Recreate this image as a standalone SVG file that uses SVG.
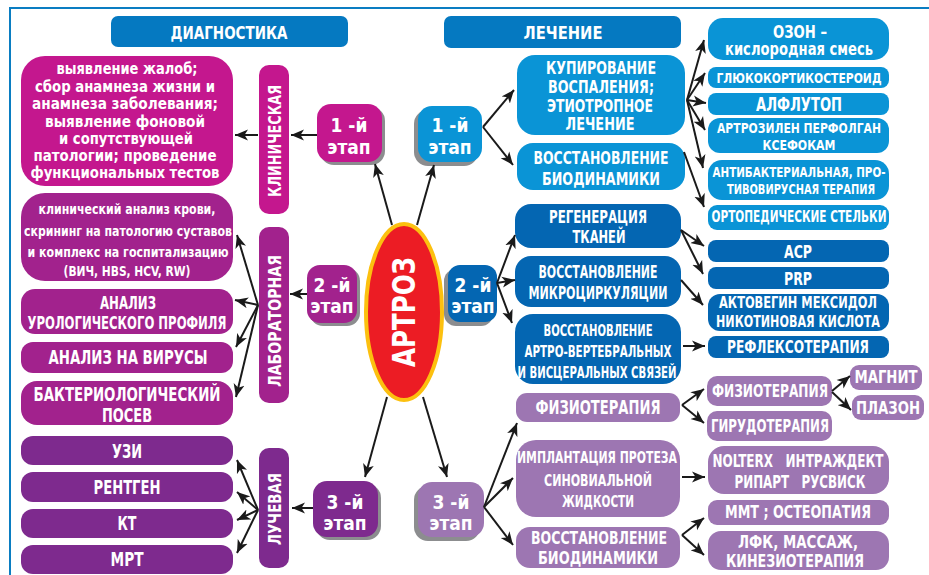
<svg xmlns="http://www.w3.org/2000/svg" width="929" height="575" viewBox="0 0 929 575">
<defs>
<marker id="ah" markerUnits="userSpaceOnUse" markerWidth="14" markerHeight="12" refX="13" refY="6" orient="auto">
<path d="M0,0.5 L13,6 L0,11.5 L3.5,6 z" fill="#1a1a1a"/>
</marker>
<style>
.t{font-family:"Liberation Sans Narrow","DejaVu Sans Condensed","Liberation Sans",sans-serif;font-weight:bold;fill:#fff;text-anchor:middle;dominant-baseline:central}
.c line{stroke:#1a1a1a;stroke-width:2;fill:none;marker-end:url(#ah)}
.sh{fill:#8c8d8f}
.hb{fill:#0579c1}
.lb{fill:#0a94d6}
.db{fill:#0466b2}
.mg{fill:#c4178e}
.lp{fill:#a2228d}
.rp{fill:#7e2a8e}
.vp{fill:#9d76b2}
</style>
</defs>
<rect x="0" y="0" width="929" height="575" fill="#fff"/>
<polyline points="10,575 10,8 929,8" fill="none" stroke="#0a7dc2" stroke-width="2"/>

<g id="hdr-diag"><rect class="hb" x="111" y="16" width="237" height="31" rx="7"/><text class="t" x="229" y="32" font-size="18" textLength="117" lengthAdjust="spacingAndGlyphs">ДИАГНОСТИКА</text></g>
<g id="hdr-treat"><rect class="hb" x="444" y="16" width="237" height="32" rx="7"/><text class="t" x="563" y="32" font-size="18" textLength="79" lengthAdjust="spacingAndGlyphs">ЛЕЧЕНИЕ</text></g>

<g id="artroz"><ellipse cx="404" cy="312" rx="38" ry="88" fill="#ec1c24" stroke="#fcc00f" stroke-width="4"/><text class="t" transform="translate(404,312) rotate(-90)" x="0" y="0" font-size="32" textLength="110" lengthAdjust="spacingAndGlyphs">АРТРОЗ</text></g>

<g id="st1l"><rect class="sh" x="320" y="107" width="65" height="58" rx="14"/><rect class="mg" x="317" y="104" width="65" height="58" rx="14"/><text class="t" x="349" y="125" font-size="19">1 -й</text><text class="t" x="349" y="147" font-size="19">этап</text></g>
<g id="st2l"><rect class="sh" x="310" y="268" width="50" height="58" rx="13"/><rect class="lp" x="307" y="265" width="50" height="58" rx="13"/><text class="t" x="332" y="285" font-size="19">2 -й</text><text class="t" x="332" y="306" font-size="19">этап</text></g>
<g id="st3l"><rect class="sh" x="316" y="484" width="65" height="56" rx="14"/><rect class="rp" x="313" y="481" width="65" height="56" rx="14"/><text class="t" x="345" y="502" font-size="19">3 -й</text><text class="t" x="345" y="523" font-size="19">этап</text></g>
<g id="st1r"><rect class="sh" x="414" y="110" width="64" height="56" rx="14"/><rect class="lb" x="418" y="106" width="64" height="56" rx="14"/><text class="t" x="450" y="125" font-size="19">1 -й</text><text class="t" x="450" y="147" font-size="19">этап</text></g>
<g id="st2r"><rect class="sh" x="444" y="269" width="49" height="57" rx="12"/><rect class="db" x="448" y="265" width="49" height="57" rx="12"/><text class="t" x="473" y="285" font-size="19">2 -й</text><text class="t" x="473" y="306" font-size="19">этап</text></g>
<g id="st3r"><rect class="sh" x="414" y="486" width="66" height="55" rx="14"/><rect class="vp" x="418" y="482" width="66" height="55" rx="14"/><text class="t" x="451" y="502" font-size="19">3 -й</text><text class="t" x="451" y="523" font-size="19">этап</text></g>

<g id="v-clin"><rect class="mg" x="259" y="65" width="30" height="149" rx="10"/><text class="t" transform="translate(274,141) rotate(-90)" font-size="18" textLength="112" lengthAdjust="spacingAndGlyphs">КЛИНИЧЕСКАЯ</text></g>
<g id="v-lab"><rect class="lp" x="259" y="227" width="30" height="176" rx="10"/><text class="t" transform="translate(274,321) rotate(-90)" font-size="18" textLength="132" lengthAdjust="spacingAndGlyphs">ЛАБОРАТОРНАЯ</text></g>
<g id="v-ray"><rect class="rp" x="259" y="448" width="30" height="120" rx="10"/><text class="t" transform="translate(274,509) rotate(-90)" font-size="18" textLength="72" lengthAdjust="spacingAndGlyphs">ЛУЧЕВАЯ</text></g>

<g id="clin-box"><rect class="mg" x="21" y="56" width="212" height="130" rx="24"/>
<text class="t" x="127" y="68" font-size="16.5" textLength="141" lengthAdjust="spacingAndGlyphs">выявление жалоб;</text>
<text class="t" x="125" y="86" font-size="16.5" textLength="180" lengthAdjust="spacingAndGlyphs">сбор анамнеза жизни и</text>
<text class="t" x="125" y="103" font-size="16.5" textLength="186" lengthAdjust="spacingAndGlyphs">анамнеза заболевания;</text>
<text class="t" x="125" y="121" font-size="16.5" textLength="160" lengthAdjust="spacingAndGlyphs">выявление фоновой</text>
<text class="t" x="126" y="138" font-size="16.5" textLength="134" lengthAdjust="spacingAndGlyphs">и сопутствующей</text>
<text class="t" x="125" y="155" font-size="16.5" textLength="183" lengthAdjust="spacingAndGlyphs">патологии; проведение</text>
<text class="t" x="125" y="172" font-size="16.5" textLength="189" lengthAdjust="spacingAndGlyphs">функциональных тестов</text></g>

<g id="lab1"><rect class="lp" x="21" y="193" width="212" height="88" rx="24"/>
<text class="t" x="127" y="209" font-size="14" textLength="177" lengthAdjust="spacingAndGlyphs">клинический анализ крови,</text>
<text class="t" x="128" y="231" font-size="14" textLength="208" lengthAdjust="spacingAndGlyphs">скрининг на патологию суставов</text>
<text class="t" x="128" y="252" font-size="14" textLength="201" lengthAdjust="spacingAndGlyphs">и комплекс на госпитализацию</text>
<text class="t" x="127" y="271" font-size="14" textLength="127" lengthAdjust="spacingAndGlyphs">(ВИЧ, HBS, HCV, RW)</text></g>
<g id="lab2"><rect class="lp" x="21" y="289" width="212" height="45" rx="14"/>
<text class="t" x="128" y="303" font-size="17" textLength="56" lengthAdjust="spacingAndGlyphs">АНАЛИЗ</text>
<text class="t" x="127" y="323" font-size="17" textLength="199" lengthAdjust="spacingAndGlyphs">УРОЛОГИЧЕСКОГО ПРОФИЛЯ</text></g>
<g id="lab3"><rect class="lp" x="21" y="342" width="212" height="31" rx="12"/>
<text class="t" x="128" y="357" font-size="20" textLength="159" lengthAdjust="spacingAndGlyphs">АНАЛИЗ НА ВИРУСЫ</text></g>
<g id="lab4"><rect class="lp" x="21" y="381" width="212" height="44" rx="16"/>
<text class="t" x="127" y="394" font-size="19" textLength="187" lengthAdjust="spacingAndGlyphs">БАКТЕРИОЛОГИЧЕСКИЙ</text>
<text class="t" x="127" y="415" font-size="19" textLength="50" lengthAdjust="spacingAndGlyphs">ПОСЕВ</text></g>

<g id="ray1"><rect class="rp" x="21" y="436" width="212" height="29" rx="12"/><text class="t" x="127" y="451" font-size="20" textLength="30" lengthAdjust="spacingAndGlyphs">УЗИ</text></g>
<g id="ray2"><rect class="rp" x="21" y="472" width="212" height="30" rx="12"/><text class="t" x="127" y="487" font-size="20" textLength="67" lengthAdjust="spacingAndGlyphs">РЕНТГЕН</text></g>
<g id="ray3"><rect class="rp" x="21" y="509" width="212" height="29" rx="12"/><text class="t" x="127" y="523" font-size="20" textLength="19" lengthAdjust="spacingAndGlyphs">КТ</text></g>
<g id="ray4"><rect class="rp" x="21" y="545" width="212" height="29" rx="12"/><text class="t" x="127" y="559" font-size="20" textLength="33" lengthAdjust="spacingAndGlyphs">МРТ</text></g>

<g id="kup"><rect class="lb" x="517" y="55" width="168" height="80" rx="18"/>
<text class="t" x="601" y="68" font-size="17.5" textLength="110" lengthAdjust="spacingAndGlyphs">КУПИРОВАНИЕ</text>
<text class="t" x="601" y="87" font-size="17.5" textLength="106" lengthAdjust="spacingAndGlyphs">ВОСПАЛЕНИЯ;</text>
<text class="t" x="600" y="106" font-size="17.5" textLength="106" lengthAdjust="spacingAndGlyphs">ЭТИОТРОПНОЕ</text>
<text class="t" x="600" y="124" font-size="17.5" textLength="69" lengthAdjust="spacingAndGlyphs">ЛЕЧЕНИЕ</text></g>
<g id="bio1"><rect class="lb" x="517" y="143" width="168" height="47" rx="16"/>
<text class="t" x="601" y="157" font-size="18" textLength="135" lengthAdjust="spacingAndGlyphs">ВОССТАНОВЛЕНИЕ</text>
<text class="t" x="601" y="178" font-size="18" textLength="118" lengthAdjust="spacingAndGlyphs">БИОДИНАМИКИ</text></g>
<g id="regen"><rect class="db" x="515" y="204" width="166" height="44" rx="16"/>
<text class="t" x="598" y="217" font-size="17" textLength="98" lengthAdjust="spacingAndGlyphs">РЕГЕНЕРАЦИЯ</text>
<text class="t" x="599" y="237" font-size="17" textLength="53" lengthAdjust="spacingAndGlyphs">ТКАНЕЙ</text></g>
<g id="micro"><rect class="db" x="515" y="256" width="166" height="51" rx="16"/>
<text class="t" x="598" y="272" font-size="17" textLength="119" lengthAdjust="spacingAndGlyphs">ВОССТАНОВЛЕНИЕ</text>
<text class="t" x="598" y="293" font-size="17" textLength="139" lengthAdjust="spacingAndGlyphs">МИКРОЦИРКУЛЯЦИИ</text></g>
<g id="artro"><rect class="db" x="515" y="314" width="166" height="70" rx="18"/>
<text class="t" x="598" y="330" font-size="16" textLength="109" lengthAdjust="spacingAndGlyphs">ВОССТАНОВЛЕНИЕ</text>
<text class="t" x="598" y="351" font-size="16" textLength="147" lengthAdjust="spacingAndGlyphs">АРТРО-ВЕРТЕБРАЛЬНЫХ</text>
<text class="t" x="597" y="372" font-size="16" textLength="159" lengthAdjust="spacingAndGlyphs">И ВИСЦЕРАЛЬНЫХ СВЯЗЕЙ</text></g>
<g id="fizio"><rect class="vp" x="516" y="393" width="164" height="29" rx="11"/>
<text class="t" x="598" y="407" font-size="19" textLength="125" lengthAdjust="spacingAndGlyphs">ФИЗИОТЕРАПИЯ</text></g>
<g id="impl"><rect class="vp" x="516" y="440" width="164" height="77" rx="20"/>
<text class="t" x="597" y="457" font-size="16" textLength="160" lengthAdjust="spacingAndGlyphs">ИМПЛАНТАЦИЯ ПРОТЕЗА</text>
<text class="t" x="598" y="480" font-size="16" textLength="108" lengthAdjust="spacingAndGlyphs">СИНОВИАЛЬНОЙ</text>
<text class="t" x="598" y="501" font-size="16" textLength="72" lengthAdjust="spacingAndGlyphs">ЖИДКОСТИ</text></g>
<g id="bio2"><rect class="vp" x="516" y="527" width="164" height="41" rx="14"/>
<text class="t" x="599" y="537" font-size="18" textLength="136" lengthAdjust="spacingAndGlyphs">ВОССТАНОВЛЕНИЕ</text>
<text class="t" x="598" y="557" font-size="18" textLength="120" lengthAdjust="spacingAndGlyphs">БИОДИНАМИКИ</text></g>

<g id="ozon"><rect class="lb" x="708" y="18" width="181" height="42" rx="15"/>
<text class="t" x="800" y="32" font-size="17" textLength="54" lengthAdjust="spacingAndGlyphs">ОЗОН –</text>
<text class="t" x="799" y="49" font-size="17" textLength="148" lengthAdjust="spacingAndGlyphs">кислородная смесь</text></g>
<g id="gluk"><rect class="lb" x="708" y="67" width="181" height="21" rx="8"/>
<text class="t" x="799" y="78" font-size="14.5" textLength="165" lengthAdjust="spacingAndGlyphs">ГЛЮКОКОРТИКОСТЕРОИД</text></g>
<g id="alf"><rect class="lb" x="708" y="93" width="181" height="22" rx="8"/>
<text class="t" x="799" y="104" font-size="19" textLength="86" lengthAdjust="spacingAndGlyphs">АЛФЛУТОП</text></g>
<g id="artroz-p"><rect class="lb" x="708" y="118" width="181" height="35" rx="12"/>
<text class="t" x="799" y="128" font-size="14.5" textLength="164" lengthAdjust="spacingAndGlyphs">АРТРОЗИЛЕН ПЕРФОЛГАН</text>
<text class="t" x="799" y="145" font-size="14.5" textLength="73" lengthAdjust="spacingAndGlyphs">КСЕФОКАМ</text></g>
<g id="anti"><rect class="lb" x="708" y="160" width="181" height="40" rx="14"/>
<text class="t" x="799" y="172" font-size="14.5" textLength="173" lengthAdjust="spacingAndGlyphs">АНТИБАКТЕРИАЛЬНАЯ, ПРО-</text>
<text class="t" x="801" y="189" font-size="14.5" textLength="148" lengthAdjust="spacingAndGlyphs">ТИВОВИРУСНАЯ  ТЕРАПИЯ</text></g>
<g id="ortho"><rect class="lb" x="708" y="205" width="181" height="25" rx="9"/>
<text class="t" x="799" y="217" font-size="15" textLength="175" lengthAdjust="spacingAndGlyphs">ОРТОПЕДИЧЕСКИЕ СТЕЛЬКИ</text></g>

<g id="acp"><rect class="db" x="708" y="240" width="181" height="22" rx="8"/>
<text class="t" x="798" y="251" font-size="18" textLength="28" lengthAdjust="spacingAndGlyphs">АСР</text></g>
<g id="prp"><rect class="db" x="708" y="267" width="181" height="22" rx="8"/>
<text class="t" x="798" y="278" font-size="18" textLength="28" lengthAdjust="spacingAndGlyphs">PRP</text></g>
<g id="akto"><rect class="db" x="708" y="294" width="181" height="37" rx="12"/>
<text class="t" x="798" y="303" font-size="15.5" textLength="158" lengthAdjust="spacingAndGlyphs">АКТОВЕГИН МЕКСИДОЛ</text>
<text class="t" x="798" y="322" font-size="15.5" textLength="164" lengthAdjust="spacingAndGlyphs">НИКОТИНОВАЯ КИСЛОТА</text></g>
<g id="refl"><rect class="db" x="708" y="336" width="181" height="22" rx="8"/>
<text class="t" x="798" y="347" font-size="17" textLength="142" lengthAdjust="spacingAndGlyphs">РЕФЛЕКСОТЕРАПИЯ</text></g>

<g id="fizio2"><rect class="vp" x="707" y="376" width="125" height="30" rx="10"/>
<text class="t" x="770" y="391" font-size="17" textLength="116" lengthAdjust="spacingAndGlyphs">ФИЗИОТЕРАПИЯ</text></g>
<g id="girudo"><rect class="vp" x="707" y="411" width="125" height="30" rx="10"/>
<text class="t" x="770" y="426" font-size="17" textLength="118" lengthAdjust="spacingAndGlyphs">ГИРУДОТЕРАПИЯ</text></g>
<g id="magnit"><rect class="vp" x="850" y="365" width="72" height="25" rx="9"/>
<text class="t" x="886" y="377" font-size="17" textLength="63" lengthAdjust="spacingAndGlyphs">МАГНИТ</text></g>
<g id="plazon"><rect class="vp" x="852" y="395" width="72" height="25" rx="9"/>
<text class="t" x="888" y="408" font-size="17" textLength="64" lengthAdjust="spacingAndGlyphs">ПЛАЗОН</text></g>
<g id="nolterx"><rect class="vp" x="708" y="446" width="181" height="48" rx="16"/>
<text class="t" x="798" y="461" font-size="17" textLength="171" lengthAdjust="spacingAndGlyphs" xml:space="preserve">NOLTERX   ИНТРАЖДЕКТ</text>
<text class="t" x="800" y="482" font-size="17" textLength="131" lengthAdjust="spacingAndGlyphs" xml:space="preserve">РИПАРТ   РУСВИСК</text></g>
<g id="mmt"><rect class="vp" x="708" y="500" width="181" height="25" rx="9"/>
<text class="t" x="798" y="512" font-size="17" textLength="146" lengthAdjust="spacingAndGlyphs">ММТ ; ОСТЕОПАТИЯ</text></g>
<g id="lfk"><rect class="vp" x="708" y="531" width="181" height="39" rx="13"/>
<text class="t" x="798" y="542" font-size="17" textLength="120" lengthAdjust="spacingAndGlyphs">ЛФК, МАССАЖ,</text>
<text class="t" x="795" y="561" font-size="17" textLength="138" lengthAdjust="spacingAndGlyphs">КИНЕЗИОТЕРАПИЯ</text></g>

<g id="connectors" class="c">
<line x1="392" y1="225" x2="375" y2="164"/>
<line x1="417" y1="225" x2="434" y2="165"/>
<line x1="387" y1="397" x2="365" y2="477"/>
<line x1="423" y1="397" x2="447" y2="477"/>
<line x1="317" y1="135" x2="291" y2="135"/>
<line x1="258" y1="135" x2="235" y2="135"/>
<line x1="307" y1="294" x2="290" y2="294"/>
<line x1="258" y1="305" x2="237" y2="235"/>
<line x1="258" y1="305" x2="235" y2="300"/>
<line x1="258" y1="305" x2="236" y2="347"/>
<line x1="258" y1="305" x2="236" y2="397"/>
<line x1="313" y1="508" x2="292" y2="508"/>
<line x1="258" y1="510" x2="237" y2="460"/>
<line x1="258" y1="510" x2="237" y2="492"/>
<line x1="258" y1="510" x2="237" y2="520"/>
<line x1="258" y1="510" x2="237" y2="553"/>
<line x1="483" y1="127" x2="514" y2="90"/>
<line x1="483" y1="127" x2="513" y2="165"/>
<line x1="687" y1="100" x2="704" y2="40"/>
<line x1="687" y1="100" x2="705" y2="73"/>
<line x1="687" y1="100" x2="706" y2="103"/>
<line x1="687" y1="100" x2="705" y2="130"/>
<line x1="687" y1="100" x2="703" y2="168"/>
<line x1="684" y1="152" x2="704" y2="207"/>
<line x1="497" y1="283" x2="515" y2="235"/>
<line x1="497" y1="283" x2="515" y2="280"/>
<line x1="497" y1="283" x2="512" y2="323"/>
<line x1="681" y1="230" x2="704" y2="246"/>
<line x1="681" y1="230" x2="703" y2="274"/>
<line x1="681" y1="280" x2="703" y2="305"/>
<line x1="683" y1="346" x2="705" y2="346"/>
<line x1="484" y1="507" x2="517" y2="423"/>
<line x1="484" y1="507" x2="513" y2="478"/>
<line x1="484" y1="507" x2="513" y2="545"/>
<line x1="682" y1="405" x2="704" y2="389"/>
<line x1="682" y1="405" x2="704" y2="423"/>
<line x1="682" y1="477" x2="705" y2="477"/>
<line x1="682" y1="535" x2="704" y2="518"/>
<line x1="682" y1="535" x2="704" y2="555"/>
<line x1="832" y1="391" x2="850" y2="376"/>
<line x1="832" y1="392" x2="851" y2="410"/>
</g>
</svg>
